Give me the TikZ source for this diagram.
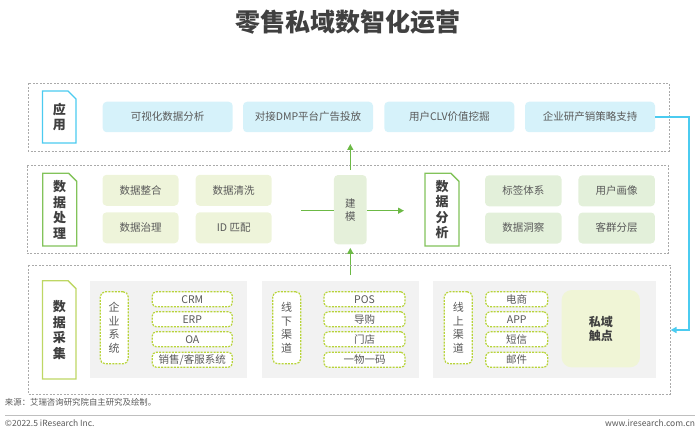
\documentclass[tikz,border=0pt]{standalone}
\usepackage{fontspec}
\setmainfont{Noto Sans CJK SC}
\usetikzlibrary{shapes.misc,arrows.meta}
\definecolor{txtgray}{RGB}{89,89,89}
\definecolor{darktxt}{RGB}{64,64,64}
\definecolor{dashgray}{RGB}{170,170,170}
\definecolor{cyanfill}{RGB}{214,242,250}
\definecolor{cyanline}{RGB}{75,203,240}
\definecolor{greenline}{RGB}{130,195,90}
\definecolor{ygline}{RGB}{190,215,100}
\definecolor{pfill}{RGB}{238,244,218}
\definecolor{qfill}{RGB}{227,240,218}
\definecolor{mfill}{RGB}{229,240,218}
\definecolor{arrowgreen}{RGB}{108,185,69}
\definecolor{ygdash}{RGB}{184,212,58}
\definecolor{panelgray}{RGB}{242,242,242}
\definecolor{sfill}{RGB}{240,245,214}
\definecolor{rulegray}{RGB}{191,191,191}
\begin{document}
\begin{tikzpicture}[x=1pt,y=-1pt,
  every node/.style={inner sep=0pt,outer sep=0pt,text=txtgray,font=\fontsize{10.5}{12}\selectfont},
  outerbox/.style={draw=dashgray,dash pattern=on 2pt off 1.5pt,line width=0.6pt},
  labbox/.style={chamfered rectangle,chamfered rectangle corners=north east,
    chamfered rectangle xsep=4pt,chamfered rectangle ysep=4pt,
    line width=1.3pt,fill=white,align=center,text=darktxt,
    font=\bfseries\fontsize{13}{15.5}\selectfont},
  appbox/.style={rectangle,rounded corners=4pt,fill=cyanfill,minimum width=130pt,minimum height=30.5pt},
  pbox/.style={rectangle,rounded corners=4pt,fill=pfill,minimum width=76pt,minimum height=31pt},
  qbox/.style={rectangle,rounded corners=4pt,fill=qfill,minimum width=76.5pt,minimum height=31pt},
  panel/.style={fill=panelgray},
  vbox/.style={rectangle,rounded corners=5pt,draw=ygdash,dash pattern=on 2pt off 1.2pt,line width=1.2pt,fill=white,
    minimum width=28pt,minimum height=72pt,align=center,font=\fontsize{11}{13.5}\selectfont},
  sbox/.style={rectangle,rounded corners=4pt,draw=ygdash,dash pattern=on 2pt off 1.2pt,line width=1.2pt,fill=white,
    minimum height=15pt},
  garrow/.style={draw=arrowgreen,line width=1.3pt,-{Triangle[length=6pt,width=6pt]}},
  gline/.style={draw=arrowgreen,line width=1.3pt},
  carrow/.style={draw=cyanline,line width=1.5pt,-{Triangle[length=6pt,width=6pt]}}
]
\useasboundingbox (0,0) rectangle (700,438);
% title
\node[font=\bfseries\fontsize{25}{28}\selectfont,text=darktxt] (title) at (348,22) {零售私域数智化运营};

% row 1
\draw[outerbox] (28,83.5) rectangle (669,151);
\node[labbox,draw=cyanline,minimum width=33.5pt,minimum height=52pt] (lab1) at (59.3,117) {应\\用};
\node[appbox] (a1) at (167.7,117) {可视化数据分析};
\node[appbox] (a2) at (308,117) {对接DMP平台广告投放};
\node[appbox] (a3) at (449.3,117) {用户CLV价值挖掘};
\node[appbox] (a4) at (590,117) {企业研产销策略支持};

% row 2
\draw[outerbox] (27,165.7) rectangle (668.5,253.3);
\node[labbox,draw=greenline,minimum width=34pt,minimum height=72.7pt] (lab2) at (59.7,209.7) {数\\据\\处\\理};
\node[pbox] (p1) at (140.5,190.3) {数据整合};
\node[pbox] (p2) at (233.7,190.3) {数据清洗};
\node[pbox] (p3) at (140.5,227.8) {数据治理};
\node[pbox] (p4) at (233.7,227.8) {ID 匹配};
\node[rectangle,rounded corners=4pt,fill=mfill,minimum width=32.7pt,minimum height=69.3pt,align=center,
  font=\fontsize{10.5}{13}\selectfont] (model) at (350.3,209.7) {建\\模};
\node[labbox,draw=greenline,minimum width=34pt,minimum height=72.7pt] (lab3) at (442,209.7) {数\\据\\分\\析};
\node[qbox] (q1) at (523.3,190.8) {标签体系};
\node[qbox] (q2) at (616.7,190.8) {用户画像};
\node[qbox] (q3) at (523.3,228) {数据洞察};
\node[qbox] (q4) at (616.7,228) {客群分层};

\coordinate (lstart) at (301,210.7);
\coordinate (rend) at (404,210.7);
\draw[gline] (lstart) -- (lstart -| model.west);
\draw[garrow] (model.east |- rend) -- (rend);
\coordinate (uptip) at (350.3,144);
\draw[garrow,shorten <=5pt] (model.north) -- (uptip);
\coordinate (botstart) at (350.3,275);
\draw[garrow,shorten >=3.5pt] (botstart) -- (model.south);

% row 3
\draw[outerbox] (28,265) rectangle (670,394);
\node[labbox,draw=ygline,minimum width=33.5pt,minimum height=98.3pt] (lab4) at (59.3,329.8) {数\\据\\采\\集};
\fill[panel] (90,281) rectangle (246.7,378.3);
\fill[panel] (262.3,281) rectangle (419,378.3);
\fill[panel] (433.3,281) rectangle (655.5,378.3);

\node[vbox] (v1) at (114.2,327.8) {企\\业\\系\\统};
\node[sbox,minimum width=80pt] (s11) at (192.3,299.3) {CRM};
\node[sbox,minimum width=80pt] (s12) at (192.3,319.3) {ERP};
\node[sbox,minimum width=80pt] (s13) at (192.3,339.3) {OA};
\node[sbox,minimum width=80pt] (s14) at (192.3,359.8) {销售/客服系统};

\node[vbox] (v2) at (286.7,327.8) {线\\下\\渠\\道};
\node[sbox,minimum width=81pt] (s21) at (364.5,299.3) {POS};
\node[sbox,minimum width=81pt] (s22) at (364.5,319.3) {导购};
\node[sbox,minimum width=81pt] (s23) at (364.5,339.3) {门店};
\node[sbox,minimum width=81pt] (s24) at (364.5,359.8) {一物一码};

\node[vbox] (v3) at (458.3,327.8) {线\\上\\渠\\道};
\node[sbox,minimum width=62pt] (s31) at (516.7,299.3) {电商};
\node[sbox,minimum width=62pt] (s32) at (516.7,319.3) {APP};
\node[sbox,minimum width=62pt] (s33) at (516.7,339.3) {短信};
\node[sbox,minimum width=62pt] (s34) at (516.7,359.8) {邮件};

\node[rectangle,rounded corners=10pt,fill=sfill,minimum width=78.3pt,minimum height=77.3pt,align=center,
  text=darktxt,font=\bfseries\fontsize{12}{14}\selectfont] (touch) at (600.8,328.7) {私域\\触点};

% cyan connector
\coordinate (ccorner) at (689,117);
\coordinate (ctip) at (670.5,330);
\draw[carrow] (a4.east) -- (ccorner) |- (ctip);

% footer
\node[anchor=west,font=\fontsize{8.4}{10}\selectfont] (src) at (5,402) {来源：艾瑞咨询研究院自主研究及绘制。};
\coordinate (rl) at (5,415.7);
\coordinate (rr) at (695,415.7);
\draw[rulegray,line width=1.3pt] (rl) -- (rr);
\node[anchor=west,font=\fontsize{8.5}{10}\selectfont] (copy) at (5,423.5) {©2022.5 iResearch Inc.};
\node[anchor=east,font=\fontsize{8.5}{10}\selectfont] (www) at (695,423.5) {www.iresearch.com.cn};
\end{tikzpicture}
\end{document}
